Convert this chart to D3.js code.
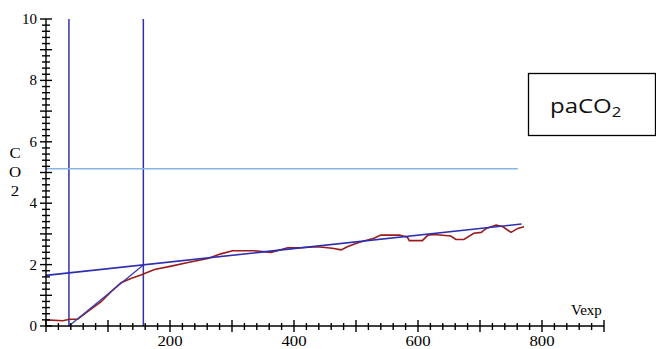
<!doctype html>
<html>
  <head>
    <script src="https://cdnjs.cloudflare.com/ajax/libs/d3/7.8.5/d3.min.js"></script>
  <style>
    body { margin: 0; background: #fff; }
    text { font-family: "Liberation Serif", "DejaVu Serif", serif; }
  </style>
  </head>
  <body>
    <svg id="chart" width="656" height="349"></svg>
    <script>
      // measured CO2 curve (red)
      var vexp = [0, 27, 38, 51, 67, 89, 105, 121, 137, 153, 175, 202, 229, 261, 282, 301, 336, 363, 390, 411, 438, 462, 476, 486, 503, 529, 540, 570, 583, 586, 607, 616, 626, 653, 661, 674, 690, 702, 710, 726, 737, 750, 761, 771];
      var co2 = [0.2, 0.17, 0.22, 0.22, 0.47, 0.79, 1.12, 1.41, 1.55, 1.66, 1.84, 1.95, 2.07, 2.2, 2.35, 2.45, 2.45, 2.40, 2.55, 2.55, 2.58, 2.53, 2.48, 2.58, 2.71, 2.86, 2.96, 2.96, 2.89, 2.78, 2.78, 2.96, 2.98, 2.93, 2.82, 2.82, 3.02, 3.05, 3.18, 3.29, 3.23, 3.05, 3.18, 3.23];

      // fitted lines (blue)
      var phase2X = [37, 157];
      var phase2Y = [0, 1.99];
      var phase3X = [0, 767];
      var phase3Y = [1.65, 3.32];
      var vLines = [37, 157];
      var paCO2 = 5.12;
      var paCO2End = 761;

      var xTicks = [200, 400, 600, 800];
      var yTicks = [0, 2, 4, 6, 8, 10];

      var svg = d3.select("#chart");

      var xScale = d3.scaleLinear().domain([0, 900]).range([46, 604]);
      var yScale = d3.scaleLinear().domain([0, 10]).range([326, 19]);

      // vertical phase lines
      svg.selectAll("line.vline")
        .data(vLines)
        .enter()
        .append("line")
          .attr("class", "vline")
          .attr("x1", d => xScale(d)).attr("x2", d => xScale(d))
          .attr("y1", yScale(10)).attr("y2", yScale(0))
          .attr("stroke", "#3232a8")
          .attr("stroke-width", 1.5);

      // paCO2 level
      svg.append("line")
        .attr("x1", xScale(0)).attr("x2", xScale(paCO2End))
        .attr("y1", yScale(paCO2)).attr("y2", yScale(paCO2))
        .attr("stroke", "#86b4e6")
        .attr("stroke-width", 1.5);

      var line = d3.line()
        .x(d => xScale(d[0]))
        .y(d => yScale(d[1]));

      svg.append("path")
        .attr("d", line(d3.zip(vexp, co2)))
        .attr("fill", "none")
        .attr("stroke", "#9a1c1c")
        .attr("stroke-width", 1.6);

      svg.append("path")
        .attr("d", line(d3.zip(phase2X, phase2Y)))
        .attr("fill", "none")
        .attr("stroke", "#3a3ab0")
        .attr("stroke-width", 1.3);

      svg.append("path")
        .attr("d", line(d3.zip(phase3X, phase3Y)))
        .attr("fill", "none")
        .attr("stroke", "#2e2eb0")
        .attr("stroke-width", 1.6);

      // axes
      var ax = svg.append("g").attr("stroke", "#000").attr("stroke-width", 1.4);
      ax.append("line")
        .attr("x1", xScale(0)).attr("x2", xScale(900))
        .attr("y1", yScale(0)).attr("y2", yScale(0));
      ax.append("line")
        .attr("x1", xScale(0)).attr("x2", xScale(0))
        .attr("y1", yScale(0)).attr("y2", yScale(10));

      var xt = d3.range(0, 901, 20);
      ax.selectAll("line.xt")
        .data(xt)
        .enter()
        .append("line")
          .attr("class", "xt")
          .attr("x1", d => xScale(d)).attr("x2", d => xScale(d))
          .attr("y1", d => yScale(0) - (d % 100 === 0 ? 6 : 3))
          .attr("y2", d => yScale(0) + (d % 100 === 0 ? 6 : 4));

      var yt = d3.range(0, 10.01, 0.2);
      ax.selectAll("line.yt")
        .data(yt)
        .enter()
        .append("line")
          .attr("class", "yt")
          .attr("y1", d => yScale(d)).attr("y2", d => yScale(d))
          .attr("x1", d => xScale(0) - (Math.abs(d % 1) < 0.01 || Math.abs(d % 1) > 0.99 ? 6 : 4))
          .attr("x2", d => xScale(0) + (Math.abs(d % 1) < 0.01 || Math.abs(d % 1) > 0.99 ? 6 : 4));

      svg.selectAll("text.xl")
        .data(xTicks)
        .enter()
        .append("text")
          .attr("class", "xl")
          .attr("transform", d => "translate(" + xScale(d) + ",346) scale(1.2,1)")
          .attr("text-anchor", "middle")
          .attr("font-size", 14)
          .text(d => d);

      svg.selectAll("text.yl")
        .data(yTicks)
        .enter()
        .append("text")
          .attr("class", "yl")
          .attr("x", 37)
          .attr("y", d => yScale(d) + 5)
          .attr("text-anchor", "end")
          .attr("font-size", 15)
          .text(d => d);

      svg.append("text")
        .attr("x", 571).attr("y", 315)
        .attr("font-size", 15)
        .text("Vexp");

      var ylab = svg.append("g").attr("font-size", 14);
      ylab.append("text").attr("text-anchor", "middle")
        .attr("transform", "translate(15,158) scale(1.2,1)").text("C");
      ylab.append("text").attr("text-anchor", "middle")
        .attr("transform", "translate(15,177) scale(1.2,1)").text("O");
      ylab.append("text").attr("text-anchor", "middle")
        .attr("transform", "translate(15,196) scale(1.2,1)").text("2");

      // label box
      svg.append("rect")
        .attr("x", 528.5).attr("y", 73.5)
        .attr("width", 127).attr("height", 62)
        .attr("fill", "#fff")
        .attr("stroke", "#000")
        .attr("stroke-width", 1.3);

      var lbl = svg.append("text")
        .attr("transform", "translate(550,113) scale(1.2,1)")
        .style("font-family", "'Open Sans', 'Noto Sans', sans-serif")
        .attr("font-size", 20)
        .attr("fill", "#111");
      lbl.append("tspan").text("paCO");
      lbl.append("tspan").attr("font-size", 14).attr("dy", 4).text("2");
    </script>
  </body>
</html>
